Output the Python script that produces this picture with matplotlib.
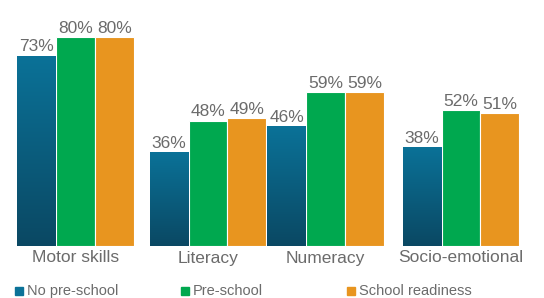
import matplotlib
matplotlib.use("Agg")
import matplotlib.pyplot as plt
import numpy as np
from matplotlib.colors import LinearSegmentedColormap

# ── Data ──────────────────────────────────────────────
categories = ["Motor skills", "Literacy", "Numeracy", "Socio-emotional"]
series = ["No pre-school", "Pre-school", "School readiness"]
no_preschool = [73, 36, 46, 38]
preschool = [80, 48, 59, 52]
readiness = [80, 49, 59, 51]

# ── Style ─────────────────────────────────────────────
BLUE_TOP = "#0b7298"
BLUE_BOT = "#0a4863"
GREEN = "#00a84f"
ORANGE = "#e8951f"
TEXT = "#6b6b6b"

plt.rcParams["font.family"] = ["Liberation Sans", "DejaVu Sans"]

fig = plt.figure(figsize=(5.44, 2.98), dpi=100)
ax = fig.add_axes([0, 1 - 246 / 298, 1, 246 / 298])
ax.axis("off")

centers = np.array([75.5, 208, 325.5, 461])  # group centres, px
bw = 38.8
offsets = np.array([-1, 0, 1]) * bw

blue_cmap = LinearSegmentedColormap.from_list("blue", [BLUE_BOT, BLUE_TOP])
grad = np.linspace(0, 1, 256).reshape(-1, 1)

values = [no_preschool, preschool, readiness]
colors = [BLUE_TOP, GREEN, ORANGE]
for k, (vals, col) in enumerate(zip(values, colors)):
    bars = ax.bar(centers + offsets[k], vals, width=bw, color=col,
                  edgecolor="white", linewidth=0.8, zorder=2)
    for b, v in zip(bars, vals):
        if k == 0:
            # vertical gradient on the blue series
            x0 = b.get_x()
            im = ax.imshow(grad, cmap=blue_cmap, origin="lower", aspect="auto",
                           extent=(x0, x0 + bw, 0, v), zorder=3)
            im.set_clip_path(b)
        ax.text(b.get_x() + bw / 2, v + 0.5, f"{v}%", ha="center",
                va="bottom", fontsize=12.5, color=TEXT)

ax.set_xlim(0, 544)
ax.set_ylim(0, 94.3)

for c, name in zip(centers, categories):
    fig.text(c / 544, 1 - 258 / 298, name, ha="center", va="center",
             fontsize=12.5, color=TEXT)

leg_x = [15, 181, 347]
for x, name, col in zip(leg_x, series, colors):
    fig.patches.append(plt.Rectangle((x / 544, 1 - 295 / 298), 8 / 544, 8 / 298,
                                     transform=fig.transFigure, color=col))
    fig.text((x + 12) / 544, 1 - 291 / 298, name, ha="left", va="center",
             fontsize=10.5, color=TEXT)

fig.savefig("out.png", dpi=100, facecolor="white")
